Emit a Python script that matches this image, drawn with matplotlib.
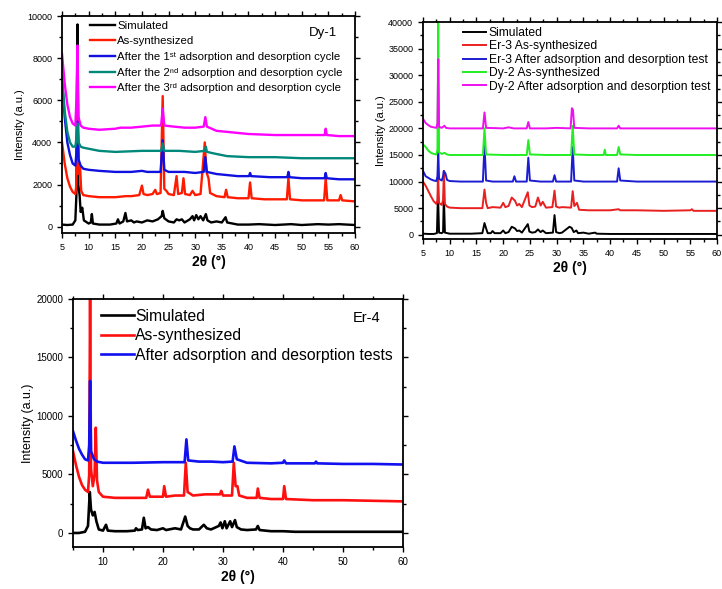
import numpy as np
import matplotlib
matplotlib.use('Agg')
import matplotlib.pyplot as plt
from matplotlib.ticker import MultipleLocator

plt.rcParams['font.family'] = ['Liberation Sans', 'DejaVu Sans']

# ---- Dy-1 (top left) : (2theta, intensity) ----
dy1_sim = np.array([(5,100),(6,80),(7,100),(7.5,300),(7.7,1500),(7.9,9600),(8.05,2000),(8.3,1500),(8.5,700),
    (8.8,900),(9.1,300),(10,150),(10.4,200),(10.6,600),(10.8,150),(12,100),(14,100),(15.2,150),(15.5,350),
    (15.8,150),(16.5,250),(16.9,650),(17.2,250),(18,300),(18.5,200),(19,250),(20,200),(21,300),(22,250),
    (23,350),(23.7,500),(23.9,750),(24.2,400),(25,250),(26,200),(26.5,350),(27,300),(27.5,350),(28,200),
    (29,350),(29.5,500),(29.8,300),(30.2,550),(30.6,350),(31,500),(31.5,300),(32,600),(32.3,300),(33,200),
    (34,250),(35,200),(35.7,450),(36,200),(38,100),(40,100),(42,120),(45,80),(48,120),(50,80),(53,120),
    (55,100),(57,120),(60,80)])
dy1_as = np.array([(5,4000),(5.5,3000),(6,2300),(6.5,1900),(7,1650),(7.5,1550),(7.7,2000),(7.9,8500),
    (8.1,2500),(8.4,2800),(8.6,1700),(9,1500),(10,1450),(12,1400),(15,1400),(17,1450),(18,1450),(19.5,1500),
    (20,1950),(20.3,1550),(21,1500),(22,1550),(22.5,1750),(22.8,1550),(23.5,1600),(23.9,6200),(24.2,1800),
    (24.6,1700),(25,1550),(26,1500),(26.5,2400),(26.8,1550),(27.5,1600),(27.8,2300),(28.1,1550),(29,1500),
    (29.5,1700),(30,1500),(31,1550),(31.8,4000),(32.1,2600),(32.5,2300),(32.8,1600),(34,1450),(35.5,1400),
    (35.8,1750),(36.1,1400),(38,1350),(40,1350),(40.3,2100),(40.6,1350),(43,1300),(45,1300),(47.2,1300),
    (47.5,2300),(47.8,1300),(50,1250),(52,1250),(54.2,1250),(54.5,2300),(54.8,1250),(57,1250),(57.3,1500),
    (57.6,1250),(60,1200)])
dy1_c1 = np.array([(5,7000),(5.5,5200),(6,4000),(6.5,3400),(7,3000),(7.5,2900),(7.7,3500),(7.9,5000),
    (8.1,3200),(8.5,2900),(9,2750),(10,2700),(12,2650),(15,2600),(18,2600),(20,2650),(21,2600),(23.5,2600),
    (23.9,4100),(24.2,2700),(25,2600),(28,2600),(30,2550),(31.6,2600),(31.9,3300),(32.2,2600),(34,2500),
    (36,2450),(38,2400),(40.1,2400),(40.3,2550),(40.5,2400),(44,2350),(47.3,2350),(47.5,2600),(47.7,2350),
    (50,2300),(54.3,2300),(54.5,2550),(54.7,2300),(57,2250),(60,2250)])
dy1_c2 = np.array([(5,7100),(5.5,5500),(6,4500),(6.5,4000),(7,3800),(7.5,3800),(7.7,4200),(7.9,4900),
    (8.1,4000),(8.5,3800),(9,3750),(10,3700),(12,3600),(15,3550),(20,3600),(23.6,3600),(23.9,3950),
    (24.2,3600),(27,3600),(30,3550),(31.8,3600),(32,3800),(32.2,3550),(34,3450),(36,3350),(40,3300),
    (45,3300),(50,3250),(55,3250),(60,3250)])
dy1_c3 = np.array([(5,8200),(5.5,6800),(6,5800),(6.5,5200),(7,4900),(7.5,4800),(7.7,6000),(7.9,8600),
    (8.1,5200),(8.5,4800),(9,4700),(10,4650),(12,4600),(15,4650),(16,4700),(18,4700),(20,4750),(22,4800),
    (23.6,4800),(23.9,5600),(24.2,4800),(26,4750),(28,4700),(30,4700),(31.6,4750),(31.9,5200),(32.2,4750),
    (34,4550),(36,4500),(40,4400),(45,4350),(50,4350),(54.3,4350),(54.5,4650),(54.7,4350),(57,4300),(60,4300)])

# ---- Er-3 / Dy-2 (top right) ----
er3_sim = np.array([(5,200),(6,150),(7,150),(7.6,300),(7.8,8000),(8.0,400),(8.5,300),(8.75,500),(8.9,7500),
    (9.1,400),(10,200),(12,200),(14,200),(16.1,300),(16.5,2200),(16.8,1200),(17.1,300),(17.7,300),(18,700),
    (18.4,300),(19.5,300),(20,800),(20.4,300),(21,500),(21.6,1500),(22.2,1200),(22.6,700),(23,800),(23.5,400),
    (24.6,2000),(24.9,600),(25.4,400),(26,500),(26.5,1000),(27,500),(27.4,800),(28,300),(29.3,400),(29.6,3700),
    (29.9,500),(30.5,300),(31,400),(32.4,1500),(32.8,1300),(33.2,500),(33.7,800),(34,300),(35,400),(36,200),
    (37.2,400),(37.5,200),(40,150),(45,150),(50,150),(55,150),(60,150)])
er3_as = np.array([(5,10000),(5.5,9200),(6,8200),(6.5,7200),(7,6300),(7.5,5800),(7.7,6500),(7.8,12000),
    (8.0,6000),(8.5,5600),(8.75,6500),(8.9,12000),(9.1,5800),(9.5,5300),(10,5100),(12,5000),(16.1,5000),
    (16.5,8500),(16.8,6000),(17.1,5000),(18,5200),(19.5,5100),(20,6000),(20.4,5200),(21,5400),(21.6,7000),
    (22.2,6400),(22.6,5500),(23,5800),(23.5,5200),(24.6,8000),(24.9,5500),(25.4,5200),(26,5300),(26.5,7000),
    (27,5500),(27.4,6200),(28,5100),(29.2,5200),(29.6,8300),(29.9,5300),(30.5,5100),(31,5200),(32.7,5100),
    (33.0,8200),(33.3,5400),(33.8,6000),(34.2,4700),(36,4600),(40,4600),(41.6,4800),(41.9,4600),(45,4600),
    (50,4500),(55,4600),(55.3,4800),(55.6,4500),(60,4500)])
er3_after = np.array([(5,12000),(5.5,11000),(6,10700),(6.5,10400),(7,10200),(7.5,10100),(7.7,11000),
    (7.85,16000),(8.0,10500),(8.5,10200),(8.75,11000),(8.9,12000),(9.2,11500),(9.5,10300),(10,10100),
    (12,10000),(16.2,10000),(16.5,17000),(16.8,10200),(18,10000),(21.8,10000),(22.1,11000),(22.4,10000),
    (24.4,10000),(24.7,14500),(25.0,10200),(27,10000),(29.3,10000),(29.6,11200),(29.9,10000),(32.7,10000),
    (33.0,16500),(33.3,10200),(35,10000),(41.3,10000),(41.6,12500),(41.9,10200),(45,10000),(50,10000),
    (55,10000),(60,10000)])
dy2_as = np.array([(5,17000),(5.5,16500),(6,15800),(6.5,15400),(7,15200),(7.5,15100),(7.7,16000),
    (7.85,41000),(8.0,15500),(8.5,15200),(9,15400),(9.5,15100),(10,15000),(16.2,15000),(16.5,20000),
    (16.8,15100),(20,15000),(24.4,15000),(24.7,17800),(25.0,15100),(28,15000),(32.7,15000),(33.0,20500),
    (33.3,15100),(36,15000),(38.8,15000),(39.0,16000),(39.2,15000),(41.3,15000),(41.6,16500),(41.9,15100),
    (45,15000),(50,15000),(55,15000),(60,15000)])
dy2_after = np.array([(5,21800),(5.5,21000),(6,20600),(6.5,20300),(7,20200),(7.5,20100),(7.7,21000),
    (7.85,33000),(8.0,20300),(8.5,20100),(9,20500),(9.3,20100),(10,20000),(16.2,20000),(16.5,23000),
    (16.8,20100),(20,20000),(21,20200),(22,20000),(24.4,20000),(24.7,21200),(25.0,20000),(28,20000),
    (30,20100),(32.6,20000),(32.85,23800),(33.05,23500),(33.3,20100),(36,20000),(41.3,20000),(41.6,20500),
    (41.9,20000),(45,20000),(50,20000),(55,20000),(60,20000)])

# ---- Er-4 (bottom) ----
er4_sim = np.array([(5,0),(6,0),(7,100),(7.5,600),(7.8,3500),(8.0,2000),(8.3,1500),(8.6,1800),(8.9,1000),
    (9.3,300),(10,200),(10.5,700),(10.8,200),(12,150),(14,150),(15.3,200),(15.5,400),(15.8,250),(16.5,300),
    (16.8,1300),(17.1,400),(17.5,500),(18,300),(19,250),(20,400),(20.5,250),(21,300),(22,400),(23,300),
    (23.7,1400),(24.1,600),(24.5,400),(25,300),(26,300),(26.8,700),(27.3,400),(28,300),(29.3,600),(29.6,900),
    (29.9,400),(30.3,1000),(30.6,400),(31.2,1000),(31.5,500),(32,1100),(32.3,500),(33,300),(34,250),
    (35.5,300),(35.8,600),(36.1,250),(38,150),(40,150),(42,100),(45,100),(48,100),(50,100),(55,100),(60,100)])
er4_as = np.array([(5,7000),(5.5,5800),(6,4800),(6.5,4100),(7,3700),(7.5,3500),(7.7,5000),(7.85,20500),
    (8.0,5500),(8.3,4000),(8.6,5000),(8.8,9000),(9.0,4500),(9.3,3500),(10,3100),(12,3000),(15,3000),
    (17.2,3000),(17.5,3700),(17.8,3100),(20,3100),(20.2,4000),(20.5,3100),(22,3200),(23.5,3200),(23.8,6000),
    (24.1,3500),(25,3200),(27,3300),(29.5,3300),(29.7,3600),(30,3200),(31.5,3200),(31.8,6000),(32.1,4000),
    (32.4,4000),(32.7,3200),(34,3000),(35.6,3000),(35.8,3800),(36.1,3000),(38,2900),(40,2900),(40.2,4000),
    (40.5,2900),(45,2800),(50,2800),(55,2750),(60,2700)])
er4_after = np.array([(5,8700),(5.5,7900),(6,7200),(6.5,6700),(7,6300),(7.5,6200),(7.7,7500),(7.85,13000),
    (8.0,7000),(8.5,6300),(9,6100),(10,6000),(15,6000),(20,6050),(23.6,6050),(23.9,8000),(24.2,6200),
    (26,6100),(28,6100),(30,6050),(31.6,6100),(31.9,7400),(32.3,6300),(34,6000),(38,5950),(40,6000),
    (40.2,6200),(40.5,5950),(45.3,5950),(45.5,6100),(45.7,5950),(50,5900),(55,5900),(60,5850)])

labels1 = ['Simulated', 'As-synthesized',
           'After the 1ˢᵗ adsorption and desorption cycle',
           'After the 2ⁿᵈ adsorption and desorption cycle',
           'After the 3ʳᵈ adsorption and desorption cycle']
labels2 = ['Simulated', 'Er-3 As-synthesized', 'Er-3 After adsorption and desorption test',
           'Dy-2 As-synthesized', 'Dy-2 After adsorption and desorption test']
labels3 = ['Simulated', 'As-synthesized', 'After adsorption and desorption tests']

colors1 = ['black', '#ff1a00', '#1010e0', '#00897b', '#ff00ff']
colors2 = ['black', '#e82020', '#1c1cd0', '#22ee22', '#ee10ee']
colors3 = ['black', '#ff1010', '#1010f0']


def style_axes(ax, ymin, ymax, ymaj, ymin_step, xmaj, xmin_step, fs):
    ax.set_xlim(5, 60)
    ax.set_ylim(ymin, ymax)
    ax.xaxis.set_major_locator(MultipleLocator(xmaj))
    ax.xaxis.set_minor_locator(MultipleLocator(xmin_step))
    ax.yaxis.set_major_locator(MultipleLocator(ymaj))
    ax.yaxis.set_minor_locator(MultipleLocator(ymin_step))
    ax.tick_params(which='both', direction='out', labelsize=fs, width=1)
    ax.tick_params(which='major', length=3.5)
    ax.tick_params(which='minor', length=2)
    ax.tick_params(which='both', top=True, right=True)
    for s in ax.spines.values():
        s.set_linewidth(1.3)


fig = plt.figure(figsize=(7.22, 5.89), dpi=100)

# panel 1
ax1 = fig.add_axes([0.0859, 0.6044, 0.4058, 0.3684])
for d, c, l in zip([dy1_sim, dy1_as, dy1_c1, dy1_c2, dy1_c3], colors1, labels1):
    ax1.plot(d[:, 0], d[:, 1], color=c, lw=1.7, label=l)
style_axes(ax1, -300, 10000, 2000, 1000, 5, 2.5, 6.5)
ax1.set_xlabel('2θ (°)', fontsize=10, fontweight='bold', labelpad=2)
ax1.set_ylabel('Intensity (a.u.)', fontsize=8, labelpad=2)
ax1.legend(loc='upper left', bbox_to_anchor=(0.08, 1.0), frameon=False, fontsize=8.2,
           handlelength=2.2, handletextpad=0.2, labelspacing=0.5, borderaxespad=0)
ax1.text(0.94, 0.92, 'Dy-1', transform=ax1.transAxes, ha='right', va='center', fontsize=9.5)

# panel 2
ax2 = fig.add_axes([0.5859, 0.5942, 0.4072, 0.3684])
for d, c, l in zip([er3_sim, er3_as, er3_after, dy2_as, dy2_after], colors2, labels2):
    ax2.plot(d[:, 0], d[:, 1], color=c, lw=1.4, label=l)
style_axes(ax2, -800, 40000, 5000, 2500, 5, 2.5, 6.5)
ax2.set_xlabel('2θ (°)', fontsize=10, fontweight='bold', labelpad=2)
ax2.set_ylabel('Intensity (a.u.)', fontsize=8, labelpad=2)
ax2.legend(loc='upper left', bbox_to_anchor=(0.12, 1.0), frameon=False, fontsize=8.7,
           handlelength=1.9, handletextpad=0.2, labelspacing=0.12, borderaxespad=0)

# panel 3
ax3 = fig.add_axes([0.1011, 0.0713, 0.4571, 0.4211])
for d, c, l in zip([er4_sim, er4_as, er4_after], colors3, labels3):
    ax3.plot(d[:, 0], d[:, 1], color=c, lw=1.9, label=l)
style_axes(ax3, -1200, 20000, 5000, 2500, 10, 5, 7)
ax3.set_xlabel('2θ (°)', fontsize=10, fontweight='bold', labelpad=2)
ax3.set_ylabel('Intensity (a.u.)', fontsize=9, labelpad=2)
ax3.legend(loc='upper left', bbox_to_anchor=(0.065, 0.985), frameon=False, fontsize=11.3,
           handlelength=2.1, handletextpad=0.1, labelspacing=0.28, borderaxespad=0)
ax3.text(0.93, 0.925, 'Er-4', transform=ax3.transAxes, ha='right', va='center', fontsize=10.5)

fig.savefig('out.png', dpi=100)
